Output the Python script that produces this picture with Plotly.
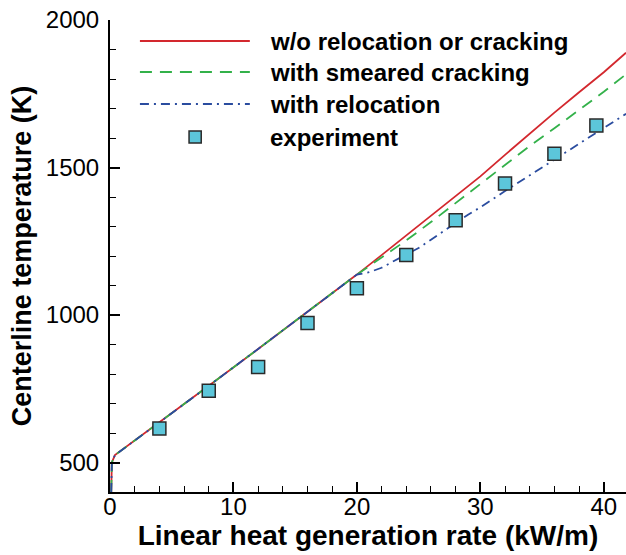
import plotly.graph_objects as go

# ---- data ----
x_common = [0.1, 0.15, 0.4, 4, 8, 12, 16, 19, 20]
y_common = [400, 500, 525, 635, 760, 885, 1010, 1105, 1137]

x_red = x_common + [22, 24, 26, 28, 30, 32, 34, 36, 38, 40, 41.8]
y_red = y_common + [1203, 1270, 1337, 1405, 1470, 1543, 1616, 1686, 1755, 1823, 1889]

x_green = x_common + [22, 24, 26, 28, 30, 32, 34, 36, 38, 40, 41.8]
y_green = y_common + [1195, 1253, 1315, 1380, 1446, 1510, 1573, 1633, 1695, 1757, 1816]

x_blue = x_common + [21, 22, 23, 24, 25, 26, 27, 28, 29, 30, 32, 34, 36, 38, 40, 41.8]
y_blue = y_common + [1145, 1160, 1183, 1205, 1227, 1255, 1285, 1312, 1340, 1365, 1420, 1474, 1527, 1580, 1634, 1682]

x_exp = [4, 8, 12, 16, 20, 24, 28, 32, 36, 39.4]
y_exp = [615, 743, 824, 973, 1091, 1203, 1321, 1446, 1547, 1642]

legend_labels = ["w/o relocation or cracking", "with smeared cracking", "with relocation", "experiment"]

RED = "#d3282e"
GREEN = "#33b14a"
BLUE = "#2a4c9f"
CYAN = "#5cc6da"
FONT = "Liberation Sans, Arial"

fig = go.Figure()
fig.add_trace(go.Scatter(x=x_red, y=y_red, mode="lines", line=dict(color=RED, width=1.8), showlegend=False))
fig.add_trace(go.Scatter(x=x_green, y=y_green, mode="lines", line=dict(color=GREEN, width=1.8, dash="12px,8px"), showlegend=False))
fig.add_trace(go.Scatter(x=x_blue, y=y_blue, mode="lines", line=dict(color=BLUE, width=1.8, dash="9px,5px,2px,5px"), showlegend=False))
fig.add_trace(go.Scatter(x=x_exp, y=y_exp, mode="markers",
                         marker=dict(symbol="square", size=13, color=CYAN, line=dict(color="#2a2a2a", width=1.5)),
                         showlegend=False))

# ---- manual legend ----
rows = [0.9555, 0.8898, 0.822, 0.752]
styles = [dict(color=RED, width=1.8), dict(color=GREEN, width=1.8, dash="12px,8px"),
          dict(color=BLUE, width=1.8, dash="9px,5px,2px,5px")]
for i in range(3):
    fig.add_shape(type="line", xref="paper", yref="paper", x0=0.058, x1=0.271, y0=rows[i], y1=rows[i], line=styles[i])
fig.add_shape(type="rect", xref="paper", yref="paper", x0=0.165 - 0.0118, x1=0.165 + 0.0118,
              y0=rows[3] - 0.0127, y1=rows[3] + 0.0127, fillcolor=CYAN, line=dict(color="#2a2a2a", width=1.5))
for i, lab in enumerate(legend_labels):
    fig.add_annotation(xref="paper", yref="paper", x=0.306, y=rows[i], text="<b>" + lab + "</b>",
                       showarrow=False, xanchor="left", yanchor="middle",
                       font=dict(family=FONT, size=24, color="black"))

axis_common = dict(showline=True, linecolor="black", linewidth=2, ticks="inside", tickcolor="black",
                   tickwidth=2, ticklen=10, showgrid=False, zeroline=False,
                   tickfont=dict(family=FONT, size=24, color="black"))

fig.update_xaxes(range=[0, 41.8], tickvals=[0, 10, 20, 30, 40], ticklabelstandoff=-8,
                 minor=dict(dtick=2, ticks="inside", ticklen=6, tickwidth=1, tickcolor="black", showgrid=False),
                 title=dict(text="<b>Linear heat generation rate (kW/m)</b>", standoff=3,
                            font=dict(family=FONT, size=28, color="black")),
                 **axis_common)
fig.update_yaxes(range=[400, 2000], tickvals=[500, 1000, 1500, 2000], ticklabelstandoff=4,
                 minor=dict(dtick=100, tick0=0, ticks="inside", ticklen=6, tickwidth=1, tickcolor="black", showgrid=False),
                 title=dict(text="<b>Centerline temperature (K)</b>", standoff=6,
                            font=dict(family=FONT, size=27, color="black")),
                 **axis_common)

fig.update_layout(width=626, height=555, margin=dict(l=110, r=0, t=20, b=63),
                  plot_bgcolor="white", paper_bgcolor="white", showlegend=False)

fig.write_html("out.html", config={"displayModeBar": False},
               post_script="document.body.style.margin='0';document.body.style.overflow='hidden';")
